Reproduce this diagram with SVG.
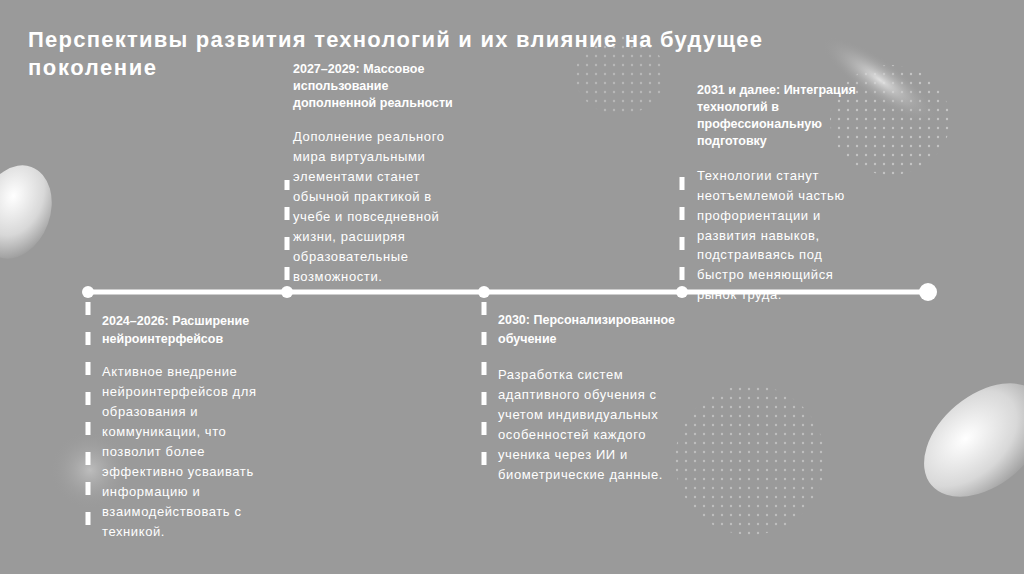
<svg xmlns="http://www.w3.org/2000/svg" width="1024" height="574" viewBox="0 0 1024 574">
<defs>
<radialGradient id="blob" cx="0.4" cy="0.35" r="0.7"><stop offset="0" stop-color="#ffffff"/><stop offset="0.6" stop-color="#d8d8d8"/><stop offset="1" stop-color="#9a9a9a"/></radialGradient>
<radialGradient id="glow" cx="0.5" cy="0.5" r="0.5"><stop offset="0" stop-color="#e8e8e8" stop-opacity="0.9"/><stop offset="1" stop-color="#9a9a9a" stop-opacity="0"/></radialGradient>
<pattern id="dots" width="9" height="9" patternUnits="userSpaceOnUse"><circle cx="2" cy="2" r="1.2" fill="#d6d6d6"/></pattern>
<style>
.t{font-family:"Liberation Sans",Arial,sans-serif;fill:#fff}
.h{font-size:12.5px;font-weight:bold}
.b{font-size:13px;letter-spacing:0.6px}
.dash{stroke:#fff;stroke-width:5;stroke-dasharray:13 17}
</style>
</defs>
<rect width="1024" height="574" fill="#9a9a9a"/>
<ellipse cx="620" cy="75" rx="45" ry="40" fill="url(#dots)" opacity="0.5"/>
<ellipse cx="890" cy="120" rx="60" ry="55" fill="url(#dots)" opacity="0.7"/>
<ellipse cx="750" cy="460" rx="75" ry="75" fill="url(#dots)" opacity="0.6"/>
<ellipse cx="880" cy="80" rx="70" ry="20" transform="rotate(35 880 80)" fill="url(#glow)"/>
<ellipse cx="15" cy="212" rx="35" ry="48" transform="rotate(20 15 212)" fill="url(#blob)"/>
<ellipse cx="985" cy="440" rx="70" ry="45" transform="rotate(-40 985 440)" fill="url(#blob)"/>
<ellipse cx="90" cy="470" rx="40" ry="40" fill="url(#glow)" opacity="0.5"/>
<text class="t" x="28" y="47" font-size="22" font-weight="bold" textLength="734" lengthAdjust="spacing">Перспективы развития технологий и их влияние на будущее</text>
<text class="t" x="28" y="75" font-size="22" font-weight="bold" textLength="128" lengthAdjust="spacing">поколение</text>
<g id="connectors">
<line x1="88" y1="292" x2="928" y2="292" stroke="#fff" stroke-width="5"/>
<line class="dash" x1="88" y1="302" x2="88" y2="535"/>
<line class="dash" x1="287" y1="280" x2="287" y2="180"/>
<line class="dash" x1="484" y1="302" x2="484" y2="480"/>
<line class="dash" x1="682" y1="280" x2="682" y2="170"/>
</g>
<g id="m1"><circle cx="88" cy="292" r="6" fill="#fff"/></g>
<g id="m2"><circle cx="287" cy="292" r="6" fill="#fff"/></g>
<g id="m3"><circle cx="484" cy="292" r="6" fill="#fff"/></g>
<g id="m4"><circle cx="682" cy="292" r="6" fill="#fff"/></g>
<g id="m5"><circle cx="928" cy="292" r="9" fill="#fff"/></g>
<g id="n1">
<text class="t h" x="102" y="325">2024–2026: Расширение</text>
<text class="t h" x="102" y="343">нейроинтерфейсов</text>
<text class="t b" x="102" y="376">Активное внедрение</text>
<text class="t b" x="102" y="396">нейроинтерфейсов  для</text>
<text class="t b" x="102" y="416">образования и</text>
<text class="t b" x="102" y="436">коммуникации, что</text>
<text class="t b" x="102" y="456">позволит более</text>
<text class="t b" x="102" y="476">эффективно усваивать</text>
<text class="t b" x="102" y="496">информацию и</text>
<text class="t b" x="102" y="516">взаимодействовать с</text>
<text class="t b" x="102" y="536">техникой.</text>
</g>
<g id="n2">
<text class="t h" x="293" y="73">2027–2029: Массовое</text>
<text class="t h" x="293" y="90">использование</text>
<text class="t h" x="293" y="107">дополненной реальности</text>
<text class="t b" x="293" y="141">Дополнение реального</text>
<text class="t b" x="293" y="161">мира виртуальными</text>
<text class="t b" x="293" y="181">элементами станет</text>
<text class="t b" x="293" y="201">обычной практикой в</text>
<text class="t b" x="293" y="221">учебе и повседневной</text>
<text class="t b" x="293" y="241">жизни, расширяя</text>
<text class="t b" x="293" y="261">образовательные</text>
<text class="t b" x="293" y="281">возможности.</text>
</g>
<g id="n3">
<text class="t h" x="498" y="324">2030: Персонализированное</text>
<text class="t h" x="498" y="343">обучение</text>
<text class="t b" x="498" y="379">Разработка систем</text>
<text class="t b" x="498" y="399">адаптивного  обучения с</text>
<text class="t b" x="498" y="419">учетом индивидуальных</text>
<text class="t b" x="498" y="439">особенностей каждого</text>
<text class="t b" x="498" y="459">ученика через ИИ   и</text>
<text class="t b" x="498" y="479">биометрические данные.</text>
</g>
<g id="n4">
<text class="t h" x="697" y="94">2031 и далее: Интеграция</text>
<text class="t h" x="697" y="111">технологий в</text>
<text class="t h" x="697" y="128">профессиональную</text>
<text class="t h" x="697" y="145">подготовку</text>
<text class="t b" x="697" y="180">Технологии станут</text>
<text class="t b" x="697" y="200">неотъемлемой частью</text>
<text class="t b" x="697" y="220">профориентации и</text>
<text class="t b" x="697" y="240">развития навыков,</text>
<text class="t b" x="697" y="259">подстраиваясь под</text>
<text class="t b" x="697" y="279">быстро меняющийся</text>
<text class="t b" x="697" y="299">рынок труда.</text>
</g>
</svg>
